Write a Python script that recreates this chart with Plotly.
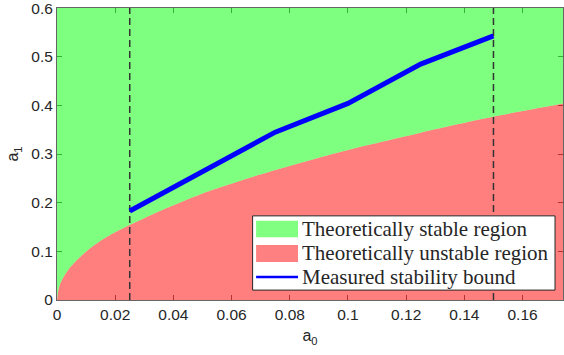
import plotly.graph_objects as go

# Theoretical stability boundary a1(a0)
bound_a0 = [0, 0.0005, 0.0012, 0.0025, 0.0046, 0.0075, 0.0117, 0.0175, 0.0249,
            0.035, 0.05, 0.0698, 0.0983, 0.125, 0.1501, 0.175]
bound_a1 = [0, 0.022, 0.035, 0.050, 0.068, 0.086, 0.108, 0.131, 0.154,
            0.182, 0.219, 0.258, 0.306, 0.344, 0.377, 0.405]

# Measured stability bound
meas_a0 = [0.025, 0.05, 0.075, 0.1, 0.125, 0.15]
meas_a1 = [0.183, 0.264, 0.345, 0.404, 0.485, 0.543]

# Limits of the measured range
range_limits = [0.025, 0.15]

y_top = 0.6
x_ticks = [0, 0.02, 0.04, 0.06, 0.08, 0.1, 0.12, 0.14, 0.16]
x_tick_text = ["0", "0.02", "0.04", "0.06", "0.08", "0.1", "0.12", "0.14", "0.16"]
y_ticks = [0, 0.1, 0.2, 0.3, 0.4, 0.5, 0.6]
y_tick_text = ["0", "0.1", "0.2", "0.3", "0.4", "0.5", "0.6"]

legend_labels = ["Theoretically stable region",
                 "Theoretically unstable region",
                 "Measured stability bound"]

GREEN = "rgba(0,255,0,0.5)"
RED = "rgba(255,0,0,0.5)"
BLUE = "#0000ff"
TXT = "#262626"

W, H = 564, 355
ML, MR, MT, MB = 57, 0, 5, 55
PW, PH = W - ML - MR, H - MT - MB

fig = go.Figure()

# unstable region (below the boundary)
fig.add_trace(go.Scatter(x=bound_a0, y=bound_a1, mode="lines",
                         line=dict(width=0, shape="spline", smoothing=0.6),
                         fill="tozeroy", fillcolor=RED, hoverinfo="skip"))
# stable region (between the boundary and the top)
fig.add_trace(go.Scatter(x=bound_a0, y=[y_top] * len(bound_a0), mode="lines",
                         line=dict(width=0), fill="tonexty", fillcolor=GREEN,
                         hoverinfo="skip"))

for xl in range_limits:
    fig.add_trace(go.Scatter(x=[xl, xl], y=[0, y_top], mode="lines",
                             line=dict(color="#333333", width=1.5, dash="7px,4px"),
                             hoverinfo="skip"))

fig.add_trace(go.Scatter(x=meas_a0, y=meas_a1, mode="lines",
                         line=dict(color=BLUE, width=5)))


def px(x):
    return (x - ML) / PW


def py(y):
    return (MT + PH - y) / PH


shapes = []
annotations = []
# legend frame
shapes.append(dict(type="rect", xref="paper", yref="paper",
                   x0=px(253), x1=px(556), y0=py(215), y1=py(290),
                   fillcolor="white", line=dict(color=TXT, width=1), layer="above"))
rows = [228.3, 253.0, 276.7]
shapes.append(dict(type="rect", xref="paper", yref="paper",
                   x0=px(256.5), x1=px(298.5), y0=py(220), y1=py(236.5),
                   fillcolor="#80ff80", line=dict(width=0), layer="above"))
shapes.append(dict(type="rect", xref="paper", yref="paper",
                   x0=px(256.5), x1=px(298.5), y0=py(244.5), y1=py(261.5),
                   fillcolor="#ff8080", line=dict(width=0), layer="above"))
shapes.append(dict(type="line", xref="paper", yref="paper",
                   x0=px(256.5), x1=px(298.5), y0=py(rows[2]), y1=py(rows[2]),
                   line=dict(color=BLUE, width=2.5), layer="above"))
for lab, r in zip(legend_labels, rows):
    annotations.append(dict(text=lab, xref="paper", yref="paper",
                            x=px(300), y=py(r), xanchor="left", yanchor="middle",
                            showarrow=False,
                            font=dict(family="Liberation Serif", size=21, color=TXT)))

axis_common = dict(showgrid=False, zeroline=False, showline=True, linecolor="#666666",
                   linewidth=1, mirror="ticks", ticks="inside", ticklen=5,
                   tickcolor="#666666", layer="below traces",
                   ticklabeloverflow="allow",
                   tickfont=dict(family="Liberation Sans", size=15.5, color=TXT))

fig.update_layout(
    width=W, height=H,
    margin=dict(l=ML, r=MR, t=MT, b=MB, pad=0),
    paper_bgcolor="white", plot_bgcolor="white",
    showlegend=False,
    shapes=shapes, annotations=annotations,
    xaxis=dict(range=[0, 0.1739], tickvals=x_ticks, ticktext=x_tick_text,
               title=dict(text="a<sub>0</sub>", standoff=8,
                          font=dict(family="Liberation Sans", size=16, color=TXT)),
               **axis_common),
    yaxis=dict(range=[0, y_top + 0.0002], tickvals=y_ticks, ticktext=y_tick_text,
               title=dict(text="a<sub>1</sub>", standoff=8,
                          font=dict(family="Liberation Sans", size=16, color=TXT)),
               **axis_common),
)

fig.write_html("out.html")
